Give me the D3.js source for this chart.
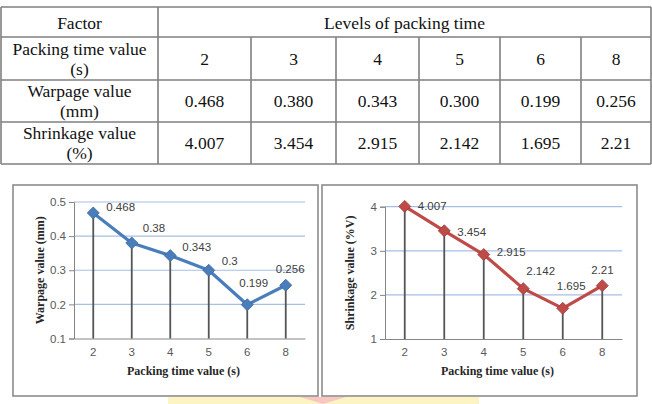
<!DOCTYPE html>
<html>
<head>
<meta charset="utf-8">
<script src="https://cdn.jsdelivr.net/npm/d3@7"></script>
<style>
  body { margin: 0; background: #fff; }
  svg { display: block; }
</style>
</head>
<body>
<svg id="fig"></svg>
<script>
// data
const packingTimes = ["2", "3", "4", "5", "6", "8"];
const warpage = [0.468, 0.38, 0.343, 0.3, 0.199, 0.256];
const shrinkage = [4.007, 3.454, 2.915, 2.142, 1.695, 2.21];
const warpageText = ["0.468", "0.380", "0.343", "0.300", "0.199", "0.256"];
const shrinkageText = ["4.007", "3.454", "2.915", "2.142", "1.695", "2.21"];
const warpageTicks = [0.1, 0.2, 0.3, 0.4, 0.5];
const shrinkageTicks = [1, 2, 3, 4];
const tableHeader = ["Factor", "Levels of packing time"];
const rowNames = [["Packing time value", "(s)"], ["Warpage value", "(mm)"], ["Shrinkage value", "(%)"]];

// hand placed data labels (dx, dy from the point), like in the original sheet
const warpageLabelNudge = [[13, -6], [11, -15], [12, -9], [13, -9], [-8, -22], [-10, -16]];
const shrinkageLabelNudge = [[13, 0], [13, 1], [13, -3], [3, -18], [-6, -22], [-11, -16]];

const SERIF = "'Liberation Serif', 'Times New Roman', serif";
const SANS = "'Liberation Sans', Arial, sans-serif";

const W = 652, H = 404;
const svg = d3.select("#fig").attr("width", W).attr("height", H);

// faint watermark strip at the very bottom
svg.append("rect").attr("x", 168).attr("y", 397).attr("width", 311).attr("height", 7).attr("fill", "#fdf4c4");
svg.append("path").attr("d", "M300,397 L346,397 L323,404 Z").attr("fill", "#f7c7c0");

// ---- table ----
const colX = [1, 158, 251, 336, 419, 500, 581, 651];
const rowY = [7, 37, 80, 122, 164];
const table = svg.append("g");

const tline = (x1, y1, x2, y2) => table.append("line")
  .attr("x1", x1).attr("y1", y1).attr("x2", x2).attr("y2", y2)
  .attr("stroke", "#7f7f7f").attr("stroke-width", 1.6);

rowY.forEach(y => tline(colX[0], y, colX[7], y));
tline(colX[0], rowY[0], colX[0], rowY[4]);
tline(colX[1], rowY[0], colX[1], rowY[4]);
tline(colX[7], rowY[0], colX[7], rowY[4]);
colX.slice(2, 7).forEach(x => tline(x, rowY[1], x, rowY[4]));

const ttext = (x, y, s) => table.append("text")
  .attr("x", x).attr("y", y).attr("text-anchor", "middle")
  .attr("dominant-baseline", "central")
  .attr("font-family", SERIF)
  .attr("font-size", 17.5)
  .attr("fill", "#111")
  .text(s);

ttext((colX[0] + colX[1]) / 2, 23, tableHeader[0]);
ttext((colX[1] + colX[7]) / 2, 23, tableHeader[1]);

const rowValues = [packingTimes, warpageText, shrinkageText];
rowNames.forEach((nm, r) => {
  const mid = (rowY[r + 1] + rowY[r + 2]) / 2;
  ttext((colX[0] + colX[1]) / 2, mid - 10, nm[0]);
  ttext((colX[0] + colX[1]) / 2, mid + 10, nm[1]);
  rowValues[r].forEach((v, i) => ttext((colX[i + 1] + colX[i + 2]) / 2, mid, v));
});

// ---- charts ----
class DropLineChart {

  constructor(config, values, labels, nudge) {
    this.config = config;
    this.values = values;
    this.labels = labels;
    this.nudge = nudge;
    this.init();
  }

  init() {
    let self = this;
    let c = self.config;

    self.g = svg.append("g");

    // outer frame
    self.g.append("rect")
      .attr("x", c.frame[0]).attr("y", c.frame[1])
      .attr("width", c.frame[2]).attr("height", c.frame[3])
      .attr("fill", "#fff").attr("stroke", "#8c8c8c").attr("stroke-width", 1.6);

    self.x_scale = d3.scaleBand()
      .domain(packingTimes)
      .range([c.left, c.right]);

    self.y_scale = d3.scaleLinear()
      .domain(c.domain)
      .range([c.bottom, c.top]);

    self.cx = d => self.x_scale(d) + self.x_scale.bandwidth() / 2;
  }

  render() {
    let self = this;
    let c = self.config;
    let y0 = self.y_scale(c.domain[0]);

    // gridlines
    self.g.append("g").selectAll("line")
      .data(c.ticks.slice(1))
      .join("line")
      .attr("x1", c.left).attr("x2", c.right)
      .attr("y1", d => self.y_scale(d)).attr("y2", d => self.y_scale(d))
      .attr("stroke", "#a7bfe3").attr("stroke-width", 1.2);

    // y axis
    let yAxis = d3.axisLeft(self.y_scale)
      .tickValues(c.ticks)
      .tickSize(5)
      .tickPadding(3)
      .tickFormat(d3.format("~g"));
    let ya = self.g.append("g")
      .attr("transform", "translate(" + c.left + ",0)")
      .call(yAxis);
    ya.select(".domain").attr("stroke", "#868686");
    ya.selectAll(".tick line").attr("stroke", "#868686");
    ya.selectAll(".tick text")
      .attr("fill", "#595959")
      .attr("font-family", SANS)
      .attr("font-size", 11.5);

    // x axis
    let xAxis = d3.axisBottom(self.x_scale).tickSize(0).tickPadding(9);
    let xa = self.g.append("g")
      .attr("transform", "translate(0," + y0 + ")")
      .call(xAxis);
    xa.select(".domain").attr("stroke", "#868686");
    xa.selectAll(".tick text")
      .attr("fill", "#595959")
      .attr("font-family", SANS)
      .attr("font-size", 11.5);

    let data = packingTimes.map((t, i) => ({ t: t, v: self.values[i], i: i }));

    // drop lines
    self.g.append("g").selectAll("line")
      .data(data)
      .join("line")
      .attr("x1", d => self.cx(d.t)).attr("x2", d => self.cx(d.t))
      .attr("y1", d => self.y_scale(d.v)).attr("y2", y0)
      .attr("stroke", "#555").attr("stroke-width", 1.8);

    // series line
    let line = d3.line()
      .x(d => self.cx(d.t))
      .y(d => self.y_scale(d.v));
    self.g.append("path")
      .datum(data)
      .attr("fill", "none")
      .attr("stroke", c.color)
      .attr("stroke-width", 3.2)
      .attr("stroke-linejoin", "round")
      .attr("d", line);

    // diamond markers
    self.g.append("g").selectAll("path")
      .data(data)
      .join("path")
      .attr("transform", d => "translate(" + self.cx(d.t) + "," + self.y_scale(d.v) + ")")
      .attr("d", "M0,-6L6,0L0,6L-6,0Z")
      .attr("fill", c.color)
      .attr("stroke", c.dark)
      .attr("stroke-width", 0.8);

    // data labels
    self.g.append("g").selectAll("text")
      .data(data)
      .join("text")
      .attr("x", d => self.cx(d.t) + self.nudge[d.i][0])
      .attr("y", d => self.y_scale(d.v) + self.nudge[d.i][1])
      .attr("dominant-baseline", "central")
      .attr("fill", "#404040")
      .attr("font-family", SANS)
      .attr("font-size", 11.5)
      .text(d => self.labels[d.i]);

    // axis titles
    self.g.append("text")
      .attr("x", (c.left + c.right) / 2 - 6)
      .attr("y", 371)
      .attr("text-anchor", "middle")
      .attr("dominant-baseline", "central")
      .attr("font-family", SERIF)
      .attr("font-weight", "bold")
      .attr("font-size", 12)
      .attr("fill", "#262626")
      .text("Packing time value (s)");

    self.g.append("text")
      .attr("transform", "translate(" + c.titleX + "," + (c.top + c.bottom) / 2 + ") rotate(-90)")
      .attr("text-anchor", "middle")
      .attr("dominant-baseline", "central")
      .attr("font-family", SERIF)
      .attr("font-weight", "bold")
      .attr("font-size", 12)
      .attr("fill", "#262626")
      .text(c.y_label);
  }
}

let warpChart = new DropLineChart({
  frame: [13, 185, 305, 211],
  left: 74, right: 305, top: 202, bottom: 338.5,
  domain: [0.1, 0.5], ticks: warpageTicks,
  color: "#4a7ebb", dark: "#3a689f",
  titleX: 40,
  y_label: "Warpage value (mm)"
}, warpage, warpageText.map(s => String(+s)), warpageLabelNudge);
warpChart.render();

let shrinkChart = new DropLineChart({
  frame: [322, 185, 315, 211],
  left: 385, right: 622, top: 206.7, bottom: 339,
  domain: [1, 4], ticks: shrinkageTicks,
  color: "#be4b48", dark: "#9c3a37",
  titleX: 350,
  y_label: "Shrinkage value (%V)"
}, shrinkage, shrinkageText, shrinkageLabelNudge);
shrinkChart.render();
</script>
</body>
</html>
